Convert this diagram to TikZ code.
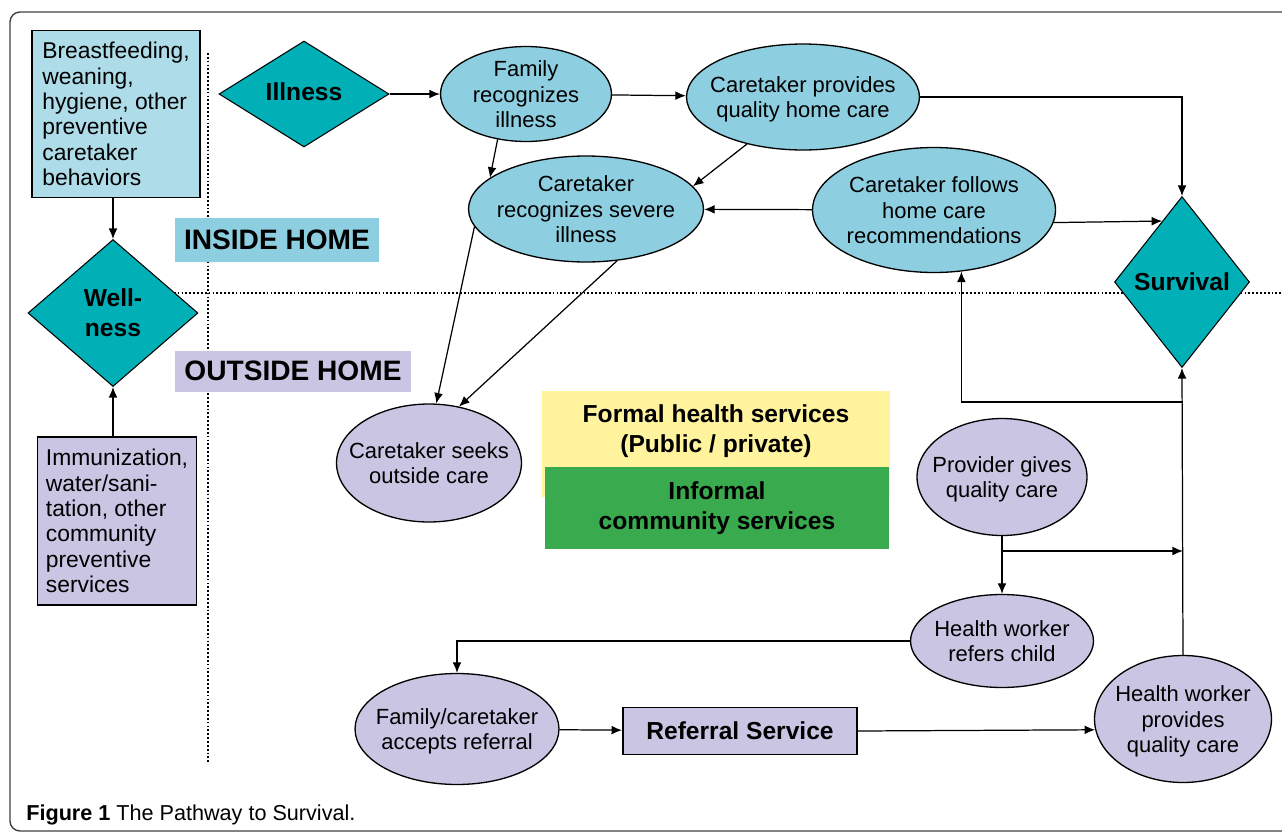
\documentclass[tikz,border=0pt]{standalone}
\usepackage{fontspec}
\setmainfont{Liberation Sans}
\definecolor{Tcol}{RGB}{0,176,182}
\definecolor{Icol}{RGB}{141,207,224}
\definecolor{Bcol}{RGB}{174,220,233}
\definecolor{Ocol}{RGB}{201,197,227}
\definecolor{Ycol}{RGB}{255,243,157}
\definecolor{Gcol}{RGB}{58,170,78}
\usetikzlibrary{shapes}
\usetikzlibrary{positioning}
\usetikzlibrary{arrows.meta}
\newcommand{\ovtext}[1]{\makebox[0pt]{\smash{\raisebox{-0.38em}{\begin{tabular}{@{}c@{}}#1\end{tabular}}}}}
\tikzstyle{ovalin}=[ellipse, draw=black, line width=0.75pt, fill=Icol, inner sep=0pt, font=\fontsize{12.5}{14.4}\selectfont]
\tikzstyle{ovalout}=[ovalin, fill=Ocol]
\tikzstyle{turn}=[diamond, draw=black, line width=0.6pt, fill=Tcol, inner sep=0pt, align=center, font=\bfseries\fontsize{14}{17}\selectfont]
\tikzstyle{infobox}=[rectangle, draw=black, line width=1.1pt, align=left, font=\fontsize{13}{14.4}\selectfont]
\tikzstyle{tag}=[rectangle, inner sep=0pt, font=\bfseries\fontsize{16}{18}\selectfont]
\tikzstyle{service}=[rectangle, inner sep=0pt, align=center, font=\bfseries\fontsize{14}{17}\selectfont]
\tikzstyle{flow}=[->, line width=0.7pt]
\tikzstyle{divider}=[line width=0.8pt, dash pattern=on 1pt off 1.2pt]

\begin{document}
\begin{tikzpicture}[>={Latex[length=6pt,width=5pt]}, x=0.02cm, y=-0.02cm]
	\useasboundingbox (0,0) rectangle (1282,832);
	\draw[rounded corners=0.2cm, line width=0.8pt, black!75] (10,12) rectangle (1320,831);
	\draw[divider] (208,53) -- (208,762);
	\draw[divider] (170,293) -- (1290,293);
	\node (bfbox) at (116,114) [infobox, fill=Bcol, minimum width=3.36cm, minimum height=3.34cm] {Breastfeeding,\\weaning,\\hygiene, other\\preventive\\caretaker\\behaviors};
	\node (wellness) at (113,313) [turn, minimum width=3.4cm, minimum height=2.94cm] {Well-\\ness};
	\node (imm) at (117,521) [infobox, fill=Ocol, minimum width=3.18cm, minimum height=3.36cm] {Immunization,\\water/sani-\\tation, other\\community\\preventive\\services};
	\node (inhome) at (277,240) [tag, fill=Icol, minimum width=4.08cm, minimum height=0.88cm] {INSIDE HOME};
	\node (outhome) at (293,371) [tag, fill=Ocol, minimum width=4.72cm, minimum height=0.82cm] {OUTSIDE HOME};
	\node (illness) at (304,94) [turn, minimum width=3.4cm, minimum height=2.12cm] {\raisebox{3pt}{Illness}};
	\node (famrec) at (526,94) [ovalin, minimum width=3.42cm, minimum height=1.9cm] {\ovtext{Family\\recognizes\\illness}};
	\node (provcare) at (803,97) [ovalin, minimum width=4.66cm, minimum height=2.12cm] {\ovtext{Caretaker provides\\quality home care}};
	\node (sevill) at (586,209) [ovalin, minimum width=4.7cm, minimum height=2.12cm] {\ovtext{Caretaker\\recognizes severe\\illness}};
	\node (follows) at (934,210) [ovalin, minimum width=4.86cm, minimum height=2.5cm] {\ovtext{Caretaker follows\\home care\\recommendations}};
	\node (survival) at (1182,282) [turn, minimum width=2.7cm, minimum height=3.42cm] {Survival};
	\node (seeks) at (429,463) [ovalout, minimum width=3.7cm, minimum height=2.36cm] {\ovtext{Caretaker seeks\\outside care}};
	\node (formal) at (716,444) [service, fill=Ycol, minimum width=6.96cm, minimum height=2.12cm] {};
	\node (formaltext) [below = 0.27cm of formal.north, service] {Formal health services\\(Public / private)};
	\node (informal) at (717,508) [service, fill=Gcol, minimum width=6.9cm, minimum height=1.66cm] {Informal\\community services};
	\node (provgives) at (1002,477) [ovalout, minimum width=3.4cm, minimum height=2.34cm] {\ovtext{Provider gives\\quality care}};
	\node (refers) at (1002,641) [ovalout, minimum width=3.66cm, minimum height=1.86cm] {\ovtext{Health worker\\refers child}};
	\node (accepts) at (457,729) [ovalout, minimum width=4.08cm, minimum height=2.22cm] {\ovtext{Family/caretaker\\accepts referral}};
	\node (referral) at (740,731) [service, draw=black, line width=1.1pt, fill=Ocol, minimum width=4.68cm, minimum height=0.94cm] {Referral Service};
	\node (hwcare) at (1183,719) [ovalout, minimum width=3.54cm, minimum height=2.54cm] {\ovtext{Health worker\\provides\\quality care}};
	\node (caption) at (26,820) [anchor=base west, inner sep=0pt, font=\fontsize{12.3}{14}\selectfont] {\textbf{Figure 1} The Pathway to Survival.};
	\coordinate (j1) at (hwcare.north |- 0,402);
	\coordinate (j2) at (provgives.south |- 0,551);
	\path[flow]
		(illness) edge (famrec)
		(famrec) edge (provcare)
		(famrec.238) edge (sevill.162)
		(provcare.220) edge (sevill.12)
		(follows) edge (sevill)
		(follows.-6) edge (survival.108)
		(sevill.189) edge (seeks.83)
		(sevill.-59) edge (seeks.62)
		(bfbox.south -| wellness) edge (wellness.north)
		(imm.north -| wellness) edge (wellness.south)
		(hwcare.north) edge (survival.south)
		(provgives) edge (refers)
		(accepts) edge (referral)
		(referral.east) edge (hwcare.187);
	\draw[flow] (provcare.east) -| (survival.north);
	\draw[flow] (j1) -| (follows.-66);
	\draw[flow] (j2) -- (j2 -| hwcare.north);
	\draw[flow] (refers.west) -| (accepts.north);
\end{tikzpicture}
\end{document}
